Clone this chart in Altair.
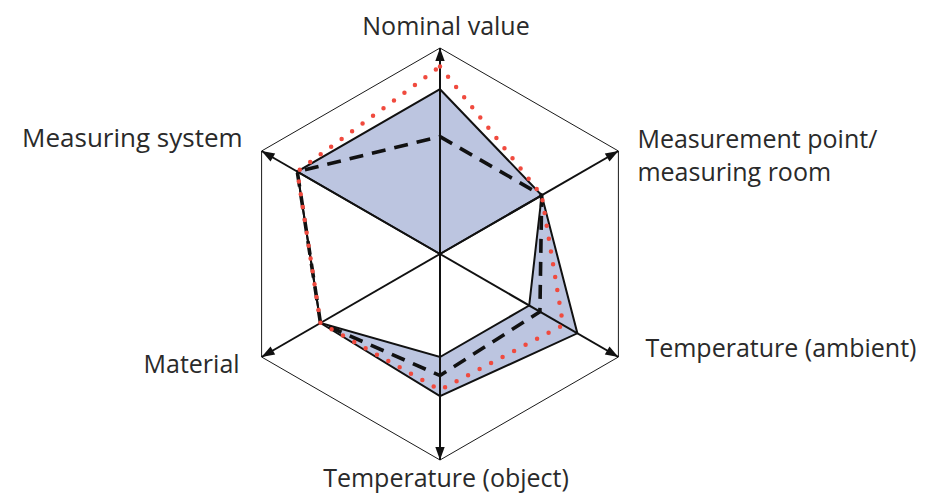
import math
import altair as alt
import pandas as pd

# ---- data ----
categories = ["Nominal value", "Measurement point/\nmeasuring room", "Temperature (ambient)",
              "Temperature (object)", "Material", "Measuring system"]
angles_deg = [0, 60, 120, 180, 240, 300]          # clockwise from top
outer_values = [0.80, 0.57, 0.77, 0.69, 0.67, 0.80]   # upper bound of shaded band
inner_values = [0.00, 0.57, 0.50, 0.50, 0.67, 0.80]   # lower bound of shaded band
dashed_values = [0.57, 0.57, 0.56, 0.59, 0.67, 0.80]
dotted_values = [0.91, 0.57, 0.69, 0.66, 0.67, 0.80]
grid_max = 1.0

# ---- layout (pixels) ----
W, H = 909, 487
CX, CY, R = 432, 246, 206

FONT = "Open Sans"
TEXT_COLOR = "#2a2a2a"
FILL = "#BCC5E0"
RED = "#F04A3E"


def pos(r, deg):
    a = math.radians(deg)
    return r * math.sin(a), r * math.cos(a)


def closed_poly(values):
    rows = []
    n = len(values)
    for k in range(n + 1):
        i = k % n
        x, y = pos(values[i], angles_deg[i])
        rows.append({"x": x, "y": y, "o": k})
    return pd.DataFrame(rows)


xs = alt.Scale(domain=[-CX / R, (W - CX) / R], nice=False, zero=False)
ys = alt.Scale(domain=[-(H - CY) / R, CY / R], nice=False, zero=False)
X = alt.X("x:Q", scale=xs, axis=None)
Y = alt.Y("y:Q", scale=ys, axis=None)

# shaded band: outer polygon forwards, inner polygon backwards
band_rows = []
fwd = [5, 0, 1, 2, 3, 4]
bwd = [4, 3, 2, 1, 0, 5]
k = 0
for i in fwd:
    x, y = pos(outer_values[i], angles_deg[i])
    band_rows.append({"x": x, "y": y, "o": k}); k += 1
for i in bwd:
    x, y = pos(inner_values[i], angles_deg[i])
    band_rows.append({"x": x, "y": y, "o": k}); k += 1
band_df = pd.DataFrame(band_rows)

band = alt.Chart(band_df).mark_line(fill=FILL, strokeOpacity=0).encode(
    x=X, y=Y, order="o:Q")

hexagon = alt.Chart(closed_poly([grid_max] * 6)).mark_line(
    color="#1a1a1a", strokeWidth=1).encode(x=X, y=Y, order="o:Q")

axes_rows = []
for c, a in zip(categories, angles_deg):
    x2, y2 = pos(grid_max, a)
    axes_rows.append({"x": 0.0, "y": 0.0, "x2": x2, "y2": y2, "angle": a, "cat": c})
axes_df = pd.DataFrame(axes_rows)

axes = alt.Chart(axes_df).mark_rule(color="#111", strokeWidth=2).encode(
    x=X, y=Y, x2="x2:Q", y2="y2:Q")

arrows = alt.Chart(axes_df).mark_point(
    shape="M0,0L0.36,1L-0.36,1Z", size=676, filled=True, color="#111",
    opacity=1, strokeWidth=0).encode(
    x=alt.X("x2:Q", scale=xs, axis=None), y=alt.Y("y2:Q", scale=ys, axis=None),
    angle=alt.Angle("angle:Q", scale=None))

outer_line = alt.Chart(closed_poly(outer_values)).mark_line(
    color="#111", strokeWidth=2, strokeJoin="miter").encode(x=X, y=Y, order="o:Q")
inner_line = alt.Chart(closed_poly(inner_values)).mark_line(
    color="#111", strokeWidth=2, strokeJoin="miter").encode(x=X, y=Y, order="o:Q")

dashed = alt.Chart(closed_poly(dashed_values)).mark_line(
    color="#111", strokeWidth=3.6, strokeDash=[14, 9]).encode(x=X, y=Y, order="o:Q")

dotted = alt.Chart(closed_poly(dotted_values)).mark_line(
    color=RED, strokeWidth=4.5, strokeDash=[0, 13], strokeCap="round").encode(
    x=X, y=Y, order="o:Q")

label_styles = [
    ("center", 6, -13, 25),
    ("left", 19, -3, 25),
    ("left", 27, 0, 25),
    ("center", 6, 27, 25),
    ("right", -22, 16, 25),
    ("right", -19, -4, 26),
]
label_layers = []
for c, a, (al, dx, dy, fs) in zip(categories, angles_deg, label_styles):
    x, y = pos(grid_max, a)
    df = pd.DataFrame([{"x": x, "y": y, "label": c}])
    label_layers.append(
        alt.Chart(df).mark_text(align=al, baseline="alphabetic", dx=dx, dy=dy,
                                font=FONT, fontSize=fs, color=TEXT_COLOR,
                                lineBreak="\n", lineHeight=33).encode(
            x=X, y=Y, text="label:N"))

chart = alt.layer(band, hexagon, axes, outer_line, inner_line, dashed, dotted,
                  arrows, *label_layers).properties(
    width=W, height=H, padding=0, autosize=alt.AutoSizeParams(type="none")
).configure_view(stroke=None)

chart.save("out.html", embed_options={"renderer": "svg", "actions": False})
